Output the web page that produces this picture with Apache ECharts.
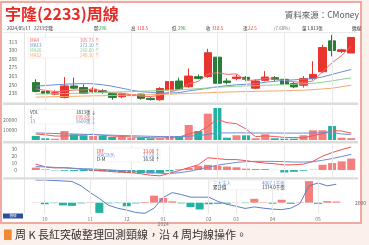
<!DOCTYPE html>
<html>
<head>
<meta charset="utf-8">
<script src="https://cdn.jsdelivr.net/npm/echarts@6/dist/echarts.min.js"></script>
<style>
html, body { margin: 0; padding: 0; background: #fcf1ea; }
#chart { width: 369px; height: 245px; }
</style>
</head>
<body>
<div id="chart"></div>
<script>
// weekly bars
const dates = [
  '2023/09/29','2023/10/06','2023/10/13','2023/10/20','2023/10/27','2023/11/03','2023/11/10','2023/11/17',
  '2023/11/24','2023/12/01','2023/12/08','2023/12/15','2023/12/22','2023/12/29','2024/01/05','2024/01/12',
  '2024/01/19','2024/01/26','2024/02/02','2024/02/07','2024/02/16','2024/02/23','2024/03/01','2024/03/08',
  '2024/03/15','2024/03/22','2024/03/29','2024/04/03','2024/04/12','2024/04/19','2024/04/26','2024/05/03',
  '2024/05/10','2024/05/17'
];
const monthIdx = [1, 6, 10, 14, 19, 22, 26, 31];
const monthText = ['10', '11', '12', '01\n2024', '02', '03', '04', '05'];

// [open, close, low, high]
const kData = [
  [253.1,240.3,238.9,257.9],[240.3,237.4,236.4,241.1],[236.4,238.5,235.0,242.1],[231.7,248.3,230.3,261.1],
  [248.3,245.0,243.6,260.3],[246.0,237.4,236.4,250.7],[240.3,243.6,237.9,246.4],[241.4,239.3,237.1,243.6],
  [237.4,231.7,228.3,238.9],[232.6,236.4,230.7,237.9],[234.3,235.7,232.1,237.9],[236.4,230.3,228.3,237.1],
  [230.3,228.6,227.1,232.1],[228.3,244.6,226.9,246.4],[242.6,254.6,242.1,257.9],[255.4,243.6,242.9,260.3],
  [247.1,262.6,245.7,273.6],[261.7,258.9,257.9,265.0],[261.7,296.4,260.3,302.1],[290.0,252.1,248.3,305.4],
  [255.4,253.1,250.7,259.3],[258.9,261.1,256.4,265.0],[260.7,257.9,255.0,262.5],[245.0,255.4,243.6,257.9],
  [256.4,261.1,255.0,269.7],[260.3,257.9,255.4,262.6],[257.9,250.7,249.3,260.7],[251.7,246.9,245.0,254.3],
  [249.3,258.9,246.0,262.6],[258.9,265.0,257.1,284.0],[268.9,304.0,267.1,307.9],[313.6,299.7,291.1,322.1],
  [298.3,300.7,296.0,302.0],[296.0,318.5,296.0,318.5]
];
const ma4 = [244,242,240,241.1,242.3,242.3,243.6,241.3,238,237.8,235.8,233.5,232.8,234.8,239.5,242.9,
  251.4,254.9,265.4,267.5,265.1,265.7,256.1,256.9,258.9,258.1,256.3,254.2,253.6,255.4,268.7,281.9,292.4,305.7];
const ma13 = [247.9,248.9,250,250.7,251.4,251.7,251.4,250,247.9,245,242.1,240,238.9,238.1,237.9,238.6,
  241.1,242.9,245,247.1,248.6,250,250.7,251.7,253.6,255,256.4,257.1,257.9,258.9,261.4,265,268.6,272.1];
const ma26 = [236.4,236.7,237,237.3,237.6,237.9,238.3,238.7,239.3,239.7,240.1,240.7,241.1,241.7,242.1,242.7,
  243.6,244.3,245.3,246.4,247.1,247.9,248.3,248.7,249.3,249.7,250.1,250.7,251.4,252.1,253.6,255.7,257.9,260];
const ma52 = [232.1,232.4,232.7,233,233.3,233.6,233.9,234.1,234.4,234.7,235,235.3,235.7,236.1,236.4,236.9,
  237.4,237.9,238.4,239,239.4,239.9,240.1,240.4,240.7,241,241.3,241.7,242.1,242.9,243.9,245,247.1,249.3];
const priceTicks = [237.5, 250, 262.5, 275, 287.5, 300, 312.5];

const volume = [4000,1700,1200,9000,5700,4700,4000,4000,3000,3000,2300,2300,1700,1700,4000,4000,
  15000,9000,26300,32000,2300,4700,4700,1700,5700,1700,1300,1300,4700,9700,9700,14000,2300,1813];
const volMa4 = [6000,5200,4000,3975,4400,5150,5850,4600,3925,3500,3075,2650,2325,2000,2425,2850,
  6175,8000,13575,20575,17400,16325,10925,3350,4200,3450,2600,2500,2250,4250,6350,9525,8925,6953];
const volMa13 = [7000,6800,6500,6200,6000,5700,5400,5100,4800,4500,4200,4000,3700,3500,3300,3200,
  3800,4400,5600,7000,7100,7100,7100,7000,7000,7000,6900,6900,6900,7000,7200,7500,6000,5600];
const volTicks = [10000, 20000];

const difLine = [8.5,4.5,3,3.5,2.3,0.8,0,-0.8,-2.3,-3,-3.8,-5.3,-7.5,-8.3,-4.5,-0.8,
  3.5,7.5,17.5,16.5,15,15,13.5,11.5,10,9,7.5,7.5,8.5,12.5,20,25,29.5,33];
const macdLine = [5,4.5,3.8,3,2.5,2,1.5,0.8,0,-0.8,-1.5,-2.3,-3.5,-4.5,-5,-3.8,
  -2,1,4,7,9,11,12,12.5,12.5,12.5,12,11.5,11.5,12,14,16.5,19.5,22.5];
const oscBars = [3.5,1,-0.5,-1,-1.5,-1.5,-1.5,-2,-2.5,-3.5,-4,-4.5,-5,-4.5,-2,1,
  3,6,7.5,6,5,4,2,1.5,1.5,0.3,-3.5,-2.5,-1,0.5,7.5,10,12.5,16.5];
const macdTicks = [0, 10, 20, 30];

const chipBars = [100,-700,-200,-1200,-1400,-300,200,-4500,-300,-200,-1600,-300,300,3100,2100,600,
  -300,-1900,-3000,-700,-500,-400,100,-200,1700,200,-430,1300,-500,200,9500,-500,700,500];
const chipLine = [6000,6000,5910,5830,5740,4970,3770,2740,1540,1030,690,260,120,1030,2910,3770,
  3430,2970,2970,2970,2230,1710,1370,980,1250,1030,860,770,1030,1830,4970,5480,4970,5260];
const chipTicks = [2000];

const UP = '#e8342f', DOWN = '#2b7b39', VUP = '#f47f7c', VDOWN = '#22b2a2';
const C4 = '#f26b6b', C13 = '#6b8fd3', C26 = '#8fcf8f', C52 = '#f5a96e';
const FONT = '"Noto Sans CJK TC", "Noto Sans", sans-serif';

const chart = echarts.init(document.getElementById('chart'));

function txt(x, y, s, fill, size, align, extra) {
  return {
    type: 'text', x: x, y: y, z: 100, silent: true,
    style: Object.assign({ text: s, fill: fill, fontSize: size, fontFamily: FONT,
      align: align || 'left', verticalAlign: 'middle' }, extra || {})
  };
}
function box(x, y, w, h, fill, stroke, z) {
  return { type: 'rect', z: z == null ? 60 : z, silent: true, shape: { x: x, y: y, width: w, height: h },
    style: { fill: fill, stroke: stroke || null, lineWidth: 0.5 } };
}
function monthLines(g) {
  return {
    type: 'line', xAxisIndex: g, yAxisIndex: g, data: dates.map(() => null), z: 0,
    markLine: {
      symbol: ['none', 'none'], silent: true, animation: false, label: { show: false },
      lineStyle: { color: '#e8e8e8', width: 1, type: 'solid' },
      data: monthIdx.map(i => ({ xAxis: dates[i] }))
    }
  };
}
function maLine(g, data, color) {
  return { type: 'line', xAxisIndex: g, yAxisIndex: g, data: data, symbol: 'none',
    lineStyle: { color: color, width: 1 }, z: 3 };
}
function yAx(g, min, max, interval, ticks) {
  return {
    type: 'value', gridIndex: g, min: min, max: max, interval: interval, scale: true,
    axisLine: { show: false }, axisTick: { show: false }, splitLine: { show: false },
    axisLabel: { fontSize: 5, color: '#666', margin: 14, fontFamily: FONT,
      formatter: v => ticks.indexOf(v) >= 0 ? String(Math.round(v)) : '' }
  };
}
const grids = [
  { left: 31, right: 13, top: 33, height: 69 },
  { left: 31, right: 13, top: 107, height: 33 },
  { left: 31, right: 13, top: 145, height: 32 },
  { left: 31, right: 13, top: 180, height: 34 }
];
const xAxes = grids.map((g, i) => ({
  type: 'category', gridIndex: i, data: dates, boundaryGap: true,
  axisLine: { show: false }, axisTick: { show: false }, splitLine: { show: false },
  axisLabel: i < 3 ? { show: false } : {
    show: true, interval: 0, hideOverlap: false, fontSize: 5, color: '#777', margin: 3,
    lineHeight: 5, fontFamily: FONT,
    formatter: (v, idx) => { const k = monthIdx.indexOf(idx); return k >= 0 ? monthText[k] : ''; }
  }
}));
const chipBarAxis = yAx(3, -5000, 10000, 5000, []);
chipBarAxis.axisLabel.show = false;

const up = i => kData[i][1] >= kData[i][0];

const graphics = [
  { type: 'rect', z: -10, silent: true, shape: { x: 1, y: 2, width: 360, height: 221 },
    style: { fill: '#ffffff', stroke: '#ec9088', lineWidth: 1.5 } },
  txt(5, 14, '宇隆(2233)周線', '#e52d27', 16, 'left', { fontWeight: 'bold' }),
  txt(359, 15, '資料來源：CMoney', '#555', 8.5, 'right'),
  // header row
  txt(7, 28, '2024/05/17', '#333', 4.5),
  txt(34, 28, '2233宇隆', '#333', 4.5),
  txt(94, 28, '開', '#333', 4.5), txt(99, 28, '296', '#1f9a3a', 4.5),
  txt(131, 28, '高', '#333', 4.5), txt(137, 28, '318.5', '#e8342f', 4.5),
  txt(172, 28, '低', '#333', 4.5), txt(178, 28, '296', '#1f9a3a', 4.5),
  txt(206, 28, '收', '#333', 4.5), txt(212, 28, '318.5', '#e8342f', 4.5),
  txt(243, 28, '漲', '#333', 4.5), txt(248, 28, '22.5', '#e8342f', 4.5),
  txt(274, 28, '(7.60%)', '#777', 4.5),
  txt(302, 28, '量', '#333', 4.5), txt(307, 28, '1,813張', '#333', 4.5),
  txt(352, 28, '週線', '#333', 4.5),
  { type: 'rect', z: 50, silent: true, shape: { x: 3, y: 32, width: 355, height: 0.8 }, style: { fill: '#e2e2e2' } },
  { type: 'line', z: 50, silent: true, shape: { x1: 24.5, y1: 33, x2: 24.5, y2: 214 }, style: { stroke: '#e4e4e4', lineWidth: 1 } },
  // panel separators
  { type: 'rect', z: 50, silent: true, shape: { x: 3, y: 102.5, width: 355, height: 2.5 }, style: { fill: '#dcdcdc' } },
  { type: 'rect', z: 50, silent: true, shape: { x: 3, y: 141, width: 355, height: 2.5 }, style: { fill: '#dcdcdc' } },
  { type: 'rect', z: 50, silent: true, shape: { x: 3, y: 177.3, width: 355, height: 2.3 }, style: { fill: '#dcdcdc' } },
  // price legend
  box(28, 37.5, 71, 20.5, '#fff', '#e6e6e6'),
  txt(30, 40.5, 'MA4', C4, 4.5), txt(80, 40.5, '305.73 ↑', C4, 4.5),
  txt(30, 45.3, 'MA13', C13, 4.5), txt(80, 45.3, '272.10 ↑', C13, 4.5),
  txt(30, 50.1, 'MA26', C26, 4.5), txt(80, 50.1, '260.00 ↑', C26, 4.5),
  txt(30, 54.9, 'MA52', C52, 4.5), txt(80, 54.9, '249.30 ↑', C52, 4.5),
  // volume legend
  box(28, 109.5, 64, 14.5, '#fff', '#e6e6e6'),
  txt(30, 112.5, 'VOL', '#333', 4.5), txt(76, 112.5, '1813張 ↓', '#333', 4.5),
  txt(30, 116.8, '4', C4, 4.5), txt(76, 116.8, '6953張 ↓', C4, 4.5),
  txt(30, 121.1, '13', C13, 4.5), txt(76, 121.1, '5600張 ↓', C13, 4.5),
  // macd legend
  box(95, 148, 65, 14, '#fff', '#e6e6e6'),
  txt(97, 151, 'DIF', '#e8342f', 4.5), txt(143, 151, '33.00 ↑', '#e8342f', 4.5),
  txt(97, 155.3, 'MACD(9)', C13, 4.5), txt(143, 155.3, '22.50 ↑', C13, 4.5),
  txt(97, 159.6, 'D-M', '#333', 4.5), txt(143, 159.6, '16.50 ↑', '#333', 4.5),
  // chip legend
  box(210, 180.3, 76, 9.5, '#fff', '#e6e6e6'),
  txt(213, 182.8, '三大法人', C13, 4.5), txt(262, 182.8, '4067.1千張', C13, 4.5),
  txt(213, 187.2, '累計值', '#333', 4.5), txt(262, 187.2, '1374.0千張', '#333', 4.5),
  // period button
  box(3, 213.5, 20, 5, '#2a4f9e', null, 60),
  txt(13, 216, '週線', '#fff', 3.5, 'center'),
  // caption
  box(4, 229.5, 7.7, 10.5, '#ef8a32', null, 60),
  txt(15, 235, '周 K 長紅突破整理回測頸線，沿 4 周均線操作。', '#333', 11)
];

const option = {
  animation: false,
  backgroundColor: '#fcf1ea',
  grid: grids,
  xAxis: xAxes,
  yAxis: [
    yAx(0, 225, 325, 12.5, priceTicks),
    yAx(1, 0, 33000, 10000, volTicks),
    yAx(2, -10, 36, 10, macdTicks),
    chipBarAxis,
    yAx(3, 0, 6000, 2000, chipTicks)
  ],
  graphic: graphics,
  series: [
    monthLines(0), monthLines(1), monthLines(2), monthLines(3),
    {
      type: 'candlestick', xAxisIndex: 0, yAxisIndex: 0, data: kData, barWidth: 8,
      itemStyle: { color: UP, color0: DOWN, borderColor: UP, borderColor0: DOWN, borderWidth: 1 }
    },
    maLine(0, ma4, C4), maLine(0, ma13, C13), maLine(0, ma26, C26), maLine(0, ma52, C52),
    {
      type: 'bar', xAxisIndex: 1, yAxisIndex: 1, barWidth: 8,
      data: volume.map((v, i) => ({ value: v, itemStyle: { color: up(i) ? VUP : VDOWN } }))
    },
    maLine(1, volMa4, '#f05a5a'), maLine(1, volMa13, C13),
    {
      type: 'bar', xAxisIndex: 2, yAxisIndex: 2, barWidth: 8,
      data: oscBars.map(v => ({ value: v, itemStyle: { color: v >= 0 ? VUP : VDOWN } }))
    },
    maLine(2, difLine, '#f05050'), maLine(2, macdLine, C13),
    {
      type: 'bar', xAxisIndex: 3, yAxisIndex: 3, barWidth: 8,
      data: chipBars.map(v => ({ value: v, itemStyle: { color: v >= 0 ? VUP : VDOWN } }))
    },
    { type: 'line', xAxisIndex: 3, yAxisIndex: 4, data: chipLine, symbol: 'none',
      lineStyle: { color: '#5a7fc8', width: 1 }, z: 3 }
  ]
};
chart.setOption(option);
</script>
</body>
</html>
